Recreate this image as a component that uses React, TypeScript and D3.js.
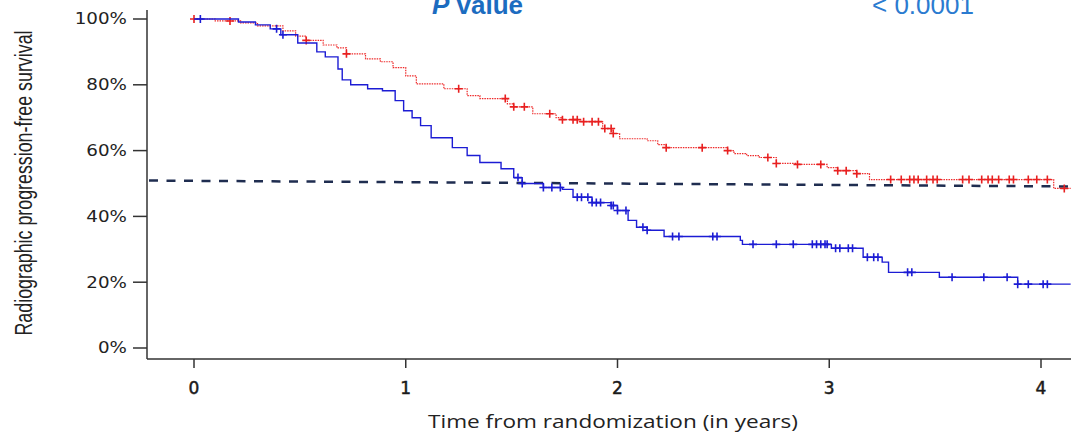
import * as d3 from "d3";

// survival steps (time in years, survival after the step)
const redTimes = [0, 0.10, 0.22, 0.30, 0.42, 0.48, 0.53, 0.61, 0.675, 0.72, 0.81, 0.88, 0.94, 1.00, 1.05, 1.18, 1.29, 1.35, 1.48, 1.51, 1.60, 1.71, 1.74, 1.82, 1.93, 1.98, 2.01, 2.14, 2.19, 2.23, 2.52, 2.55, 2.61, 2.67, 2.75, 2.85, 2.99, 3.04, 3.13, 3.19, 4.06];
const redSurv = [1.0, 0.994, 0.988, 0.979, 0.964, 0.948, 0.935, 0.921, 0.912, 0.894, 0.879, 0.870, 0.852, 0.827, 0.803, 0.788, 0.767, 0.758, 0.742, 0.733, 0.712, 0.700, 0.694, 0.688, 0.667, 0.652, 0.636, 0.630, 0.618, 0.609, 0.600, 0.591, 0.585, 0.579, 0.561, 0.558, 0.548, 0.539, 0.530, 0.512, 0.485];
const redCensor = [0, 0.17, 0.53, 0.72, 1.25, 1.47, 1.51, 1.56, 1.68, 1.74, 1.79, 1.81, 1.84, 1.88, 1.91, 1.94, 1.97, 1.98, 2.23, 2.40, 2.52, 2.71, 2.75, 2.85, 2.96, 3.04, 3.08, 3.13, 3.29, 3.34, 3.38, 3.40, 3.42, 3.46, 3.49, 3.51, 3.63, 3.66, 3.72, 3.75, 3.77, 3.80, 3.85, 3.87, 3.94, 3.98, 4.03, 4.11];

const blueTimes = [0, 0.21, 0.29, 0.36, 0.41, 0.49, 0.58, 0.62, 0.68, 0.70, 0.74, 0.82, 0.89, 0.95, 0.99, 1.03, 1.07, 1.12, 1.22, 1.29, 1.35, 1.45, 1.51, 1.55, 1.65, 1.74, 1.79, 1.88, 1.97, 2.00, 2.05, 2.09, 2.14, 2.22, 2.58, 2.59, 3.01, 3.16, 3.25, 3.28, 3.52, 3.89];
const blueSurv = [1.0, 0.991, 0.982, 0.970, 0.952, 0.927, 0.900, 0.885, 0.848, 0.815, 0.800, 0.788, 0.782, 0.752, 0.721, 0.700, 0.676, 0.639, 0.609, 0.585, 0.564, 0.545, 0.518, 0.500, 0.488, 0.482, 0.458, 0.442, 0.433, 0.418, 0.388, 0.367, 0.358, 0.339, 0.327, 0.315, 0.303, 0.276, 0.261, 0.230, 0.215, 0.194];
const blueCensor = [0.03, 0.39, 0.42, 1.53, 1.55, 1.65, 1.69, 1.73, 1.81, 1.83, 1.86, 1.88, 1.90, 1.92, 1.97, 1.98, 2.0, 2.04, 2.12, 2.14, 2.26, 2.29, 2.45, 2.47, 2.64, 2.75, 2.83, 2.92, 2.94, 2.96, 2.98, 2.99, 3.03, 3.05, 3.09, 3.11, 3.18, 3.21, 3.23, 3.37, 3.39, 3.58, 3.73, 3.84, 3.89, 3.94, 4.01, 4.03];

const medianLine = [0.509, 0.491];
const yearTicks = [0, 1, 2, 3, 4];
const pctTicks = [0, 0.2, 0.4, 0.6, 0.8, 1];
const tMax = 4.14;

const W = 1071;
const H = 434;
const axisX = 147;
const axisY = 359;

const x = d3.scaleLinear().domain([0, 4]).range([194, 1041]);
const y = d3.scaleLinear().domain([0, 1]).range([348, 19]);

function stepPath(times: number[], surv: number[]) {
  const pts: [number, number][] = times.map((t, i) => [t, surv[i]]);
  pts.push([tMax, surv[surv.length - 1]]);
  return d3.line<[number, number]>()
    .x(d => x(d[0]))
    .y(d => y(d[1]))
    .curve(d3.curveStepAfter)(pts) || "";
}

function survAt(times: number[], surv: number[], t: number) {
  const i = d3.bisectRight(times, t) - 1;
  return surv[Math.max(0, i)];
}

function Marks({ times, surv, censor, color }: { times: number[]; surv: number[]; censor: number[]; color: string }) {
  return (
    <g stroke={color} strokeWidth={1.6}>
      {censor.map((t, i) => {
        const cx = x(t);
        const cy = y(survAt(times, surv, t));
        return <path key={i} d={`M${cx - 4},${cy}H${cx + 4}M${cx},${cy - 4}V${cy + 4}`} />;
      })}
    </g>
  );
}

export default function App() {
  const xEnd = W;
  return (
    <svg width={W} height={H} style={{ position: "absolute", left: 0, top: 0, background: "#fff" }}>
      {/* header texts, cut by the top edge as in the source */}
      <text x={432} y={14} fontFamily="Liberation Sans, Arial, sans-serif" fontSize={26} fontWeight="bold" fill="#1c6cc0">
        <tspan fontStyle="italic">P</tspan> value
      </text>
      <text x={872} y={14} fontFamily="Liberation Sans, Arial, sans-serif" fontSize={26} fill="#2b7bd0">
        &lt; 0.0001
      </text>

      {/* axes */}
      <g stroke="#333" strokeWidth={1.5} fill="none">
        <line x1={axisX} x2={axisX} y1={10} y2={axisY} />
        <line x1={axisX} x2={xEnd} y1={axisY} y2={axisY} />
        {pctTicks.map(p => <line key={p} x1={133} x2={axisX} y1={y(p)} y2={y(p)} />)}
        {yearTicks.map(t => <line key={t} x1={x(t)} x2={x(t)} y1={axisY} y2={368} />)}
      </g>
      {pctTicks.map(p => (
        <text key={p} transform={`translate(127,${y(p)}) scale(1.22,1)`} dy="0.36em" textAnchor="end"
          fontFamily="DejaVu Sans, Verdana, sans-serif" fontSize={15} fill="#222">
          {d3.format(".0%")(p)}
        </text>
      ))}
      {yearTicks.map(t => (
        <text key={t} x={x(t)} y={394} textAnchor="middle" fontFamily="DejaVu Sans, Verdana, sans-serif"
          fontSize={17} fill="#1a1a1a" stroke="#1a1a1a" strokeWidth={0.5}>
          {t}
        </text>
      ))}
      <text x={613} y={428} textAnchor="middle" fontFamily="Open Sans, sans-serif" fontSize={19} fill="#222"
        textLength={370} lengthAdjust="spacingAndGlyphs">
        Time from randomization (in years)
      </text>
      <text transform="translate(32,183) rotate(-90)" textAnchor="middle"
        fontFamily="Liberation Sans Narrow, Arial Narrow, sans-serif" fontSize={23} fill="#222"
        textLength={305} lengthAdjust="spacingAndGlyphs">
        Radiographic progression-free survival
      </text>

      {/* median reference */}
      <line x1={axisX + 2} x2={xEnd} y1={y(medianLine[0])} y2={y(medianLine[1])}
        stroke="#1f2d50" strokeWidth={2.5} strokeDasharray="9 8.5" />

      {/* curves */}
      <path d={stepPath(redTimes, redSurv)} fill="none" stroke="#ee2a2a" strokeWidth={1.2} strokeDasharray="1.5 1" />
      <Marks times={redTimes} surv={redSurv} censor={redCensor} color="#e82020" />
      <path d={stepPath(blueTimes, blueSurv)} fill="none" stroke="#1c1cd4" strokeWidth={1.4} />
      <Marks times={blueTimes} surv={blueSurv} censor={blueCensor} color="#1c1cd4" />
    </svg>
  );
}
